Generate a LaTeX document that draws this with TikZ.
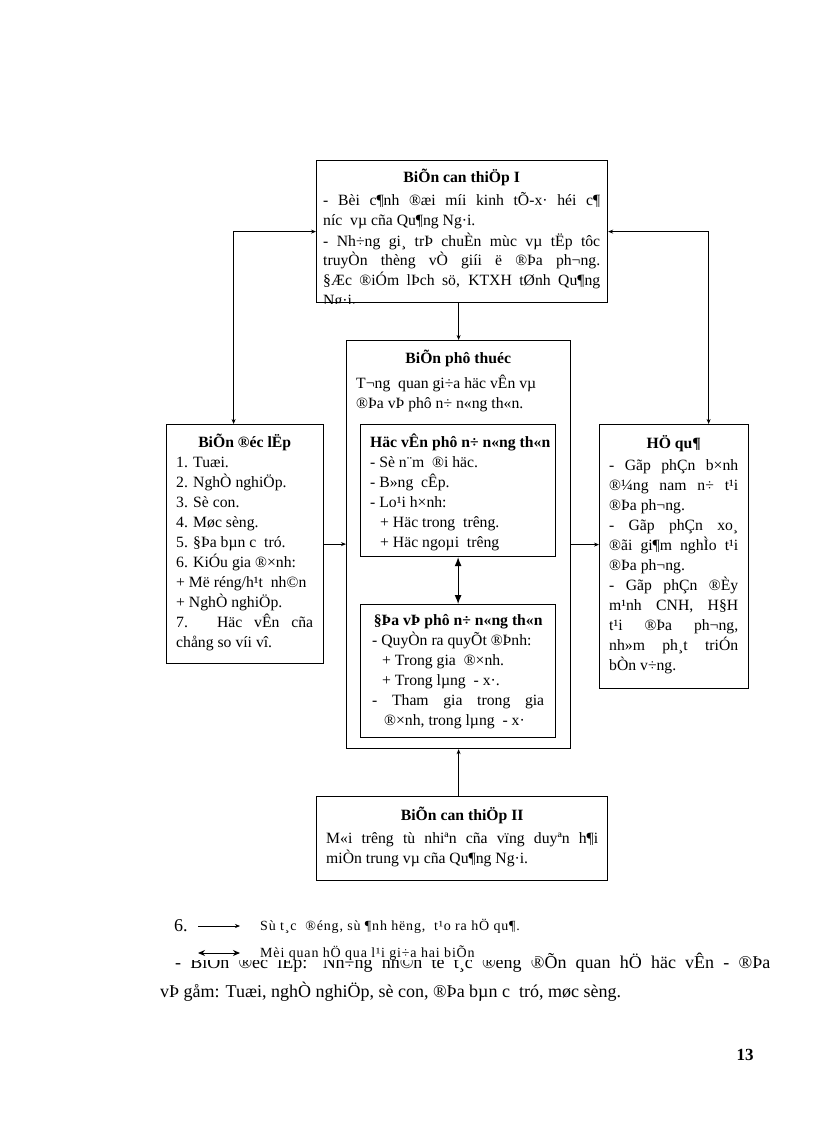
\documentclass[tikz,border=0pt]{standalone}
\usepackage{fontspec}
\setmainfont{Liberation Serif}
\usetikzlibrary{arrows.meta}
\hyphenpenalty=10000

\begin{document}
\begin{tikzpicture}[x=1pt, y=-1pt,
    box/.style={draw, line width=1.2pt, inner sep=0pt, anchor=north west},
    txt/.style={inner sep=0pt, anchor=base west, align=justify,
        font=\fontsize{15.7}{20}\selectfont},
    legtxt/.style={anchor=base west, inner sep=0pt,
        font=\fontsize{14}{16}\selectfont\addfontfeature{LetterSpace=6}},
    arr/.style={line width=0.8pt, -{Stealth[length=5pt,width=4pt]}},
    arrs/.style={line width=0.8pt, {Stealth[length=5pt,width=4pt]}-{Stealth[length=5pt,width=4pt]}},
    ]
    \useasboundingbox (0,0) rectangle (816,1123);

    % Boxes
    \node[box, minimum width=291, minimum height=142] (topbox) at (316,160) {};
    \node[box, minimum width=157, minimum height=239] (leftbox) at (166,424) {};
    \node[box, minimum width=224, minimum height=408] (midbox) at (346,340) {};
    \node[box, minimum width=195, minimum height=132] (hocvan) at (360,424) {};
    \node[box, minimum width=195, minimum height=133] (diavi) at (360,604) {};
    \node[box, minimum width=149, minimum height=264] (rightbox) at (599,424) {};
    \node[box, minimum width=291, minimum height=84] (botbox) at (316,796) {};

    % Texts
    \begin{scope}
        \clip (topbox.north west) rectangle (topbox.south east);
        \node[txt, text width=277] (topT) at (323,183) {\centerline{\bfseries BiÕn can thiÖp I}\vspace{3pt}
            - Bèi c¶nh ®æi míi kinh tÕ-x· héi c¶\linebreak níc\ \ vµ cña Qu¶ng Ng·i.\par
            - Nh÷ng gi¸ trÞ chuÈn mùc vµ tËp tôc\linebreak truyÒn thèng vÒ giíi ë ®Þa ph¬ng.\linebreak §Æc ®iÓm lÞch sö, KTXH tØnh Qu¶ng\linebreak Ng·i.};
    \end{scope}
    \node[txt, text width=137] (leftT) at (176,447) {\centerline{\bfseries BiÕn ®éc lËp}
        1. Tuæi.\par 2. NghÒ nghiÖp.\par 3. Sè con.\par 4. Møc sèng.\par 5. §Þa bµn c\ \ tró.\par
        6. KiÓu gia ®×nh:\par + Më réng/h¹t\ \ nh©n\par + NghÒ nghiÖp.\par
        7. Häc vÊn cña\linebreak chång so víi vî.};
    \node[txt, text width=204] (midT) at (356,363) {\centerline{\bfseries BiÕn phô thuéc}\vspace{5pt}
        T¬ng\ \ quan gi÷a häc vÊn vµ\par ®Þa vÞ phô n÷ n«ng th«n.};
    \node[txt, text width=180] (hocvanT) at (370,447) {\centerline{\bfseries Häc vÊn phô n÷ n«ng th«n}
        - Sè n¨m\ \ ®i häc.\par - B»ng\ \ cÊp.\par - Lo¹i h×nh:\par
        \leavevmode\hspace*{10pt}+ Häc trong\ \ trêng.\par
        \leavevmode\hspace*{10pt}+ Häc ngoµi\ \ trêng};
    \node[txt, text width=172] (diaviT) at (372,625) {\centerline{\bfseries §Þa vÞ phô n÷ n«ng th«n}
        - QuyÒn ra quyÕt ®Þnh:\par
        \leavevmode\hspace*{10pt}+ Trong gia\ \ ®×nh.\par
        \leavevmode\hspace*{10pt}+ Trong lµng\ \ - x·.\par
        - Tham gia trong gia\linebreak\hspace*{12pt}\mbox{®×nh, trong lµng\ \ - x·}};
    \node[txt, text width=129] (rightT) at (609,448) {\centerline{\bfseries HÖ qu¶}\vspace{2pt}
        - Gãp phÇn b×nh\linebreak ®¼ng nam n÷ t¹i\linebreak ®Þa ph¬ng.\par
        - Gãp phÇn xo¸\linebreak ®ãi gi¶m nghÌo t¹i\linebreak ®Þa ph¬ng.\par
        - Gãp phÇn ®Èy\linebreak m¹nh CNH, H§H\linebreak t¹i ®Þa ph¬ng,\linebreak nh»m ph¸t triÓn\linebreak bÒn v÷ng.};
    \node[txt, text width=272] (botT) at (326,820) {\centerline{\bfseries BiÕn can thiÖp II}\vspace{3pt}
        M«i trêng tù nhiªn cña vïng duyªn h¶i\linebreak miÒn trung vµ cña Qu¶ng Ng·i.};

    % Connectors
    \draw[arr] (topbox.south -| midbox.north) -- (midbox.north);
    \draw[arrs] (topbox.west) -| ([xshift=-11.5]leftbox.north);
    \draw[arrs] (topbox.east) -| ([xshift=34.5]rightbox.north);
    \draw[arr] (leftbox.east) -- (leftbox.east -| midbox.west);
    \draw[arr] (midbox.east) -- (midbox.east -| rightbox.west);
    \draw[arr] (botbox.north -| midbox.south) -- (midbox.south);
    \draw[line width=1pt, {Latex[length=9pt,width=7pt]}-{Latex[length=9pt,width=7pt]}] (hocvan.south) -- (diavi.north);

    % Body text and legend
    \node[txt, text width=610, font=\fontsize{18}{29}\selectfont] (body) at (160,968) {\hspace*{15pt}- BiÕn ®éc lËp: Nh÷ng nh©n tè t¸c ®éng ®Õn quan hÖ häc vÊn - ®Þa\linebreak vÞ gåm: Tuæi, nghÒ nghiÖp, sè con, ®Þa bµn c\ \ tró, møc sèng.};
    \fill[white] (165,903) rectangle (535,960);
    \node[anchor=base west, inner sep=0pt, font=\fontsize{18}{20}\selectfont] (six) at (174,931) {6.};
    \coordinate (l1a) at (198,926);
    \coordinate (l1b) at (240,926);
    \draw[line width=0.6pt, -{Stealth[length=5pt,width=4pt]}] (l1a) -- (l1b);
    \node[legtxt] (leg1) at (260,930) {Sù t¸c\ \ ®éng, sù ¶nh hëng,\ \ t¹o ra hÖ qu¶.};
    \coordinate (l2a) at (198,953);
    \coordinate (l2b) at (240,953);
    \draw[line width=1pt, {Stealth[length=7pt,width=6pt]}-{Stealth[length=7pt,width=6pt]}] (l2a) -- (l2b);
    \node[legtxt] (leg2) at (260,957) {Mèi quan hÖ qua l¹i gi÷a hai biÕn};

    % Page number
    \node[font=\bfseries\fontsize{17}{20}\selectfont] (pagenum) at (745,1055) {13};
\end{tikzpicture}
\end{document}
